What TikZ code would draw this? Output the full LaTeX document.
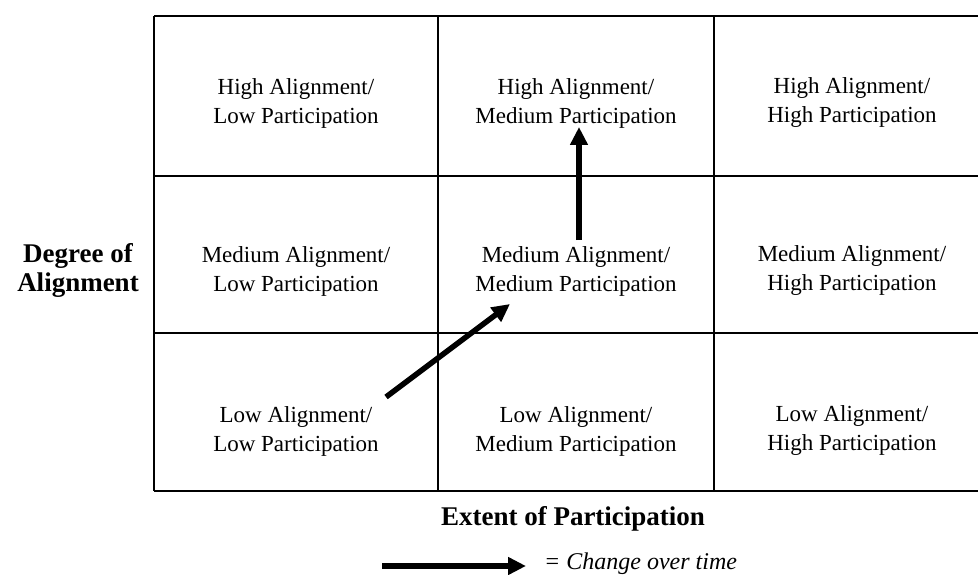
\documentclass[tikz,border=0pt]{standalone}
\usepackage{fontspec}
\setmainfont{Liberation Serif}
\usetikzlibrary{arrows.meta}

\begin{document}
\begin{tikzpicture}[x=1pt,y=-1pt,
	cell/.style={align=center,inner sep=0pt,font=\fontsize{23}{29}\selectfont},
	axislabel/.style={align=center,inner sep=0pt,font=\fontsize{27}{29}\selectfont\bfseries},
	gridline/.style={line width=1.3pt},
	change/.style={line width=5.5pt,-{Triangle[length=18pt,width=17pt]}}]
	\useasboundingbox (0,0) rectangle (978,575);
	% grid
	\draw[gridline] (154,16) -- (978,16);
	\draw[gridline] (154,176) -- (978,176);
	\draw[gridline] (154,333) -- (978,333);
	\draw[gridline] (154,491) -- (978,491);
	\draw[gridline] (154,16) -- (154,491);
	\draw[gridline] (438,16) -- (438,491);
	\draw[gridline] (714,16) -- (714,491);
	% cells
	\node[cell] (hl) at (296,103) {High Alignment/\\Low Participation};
	\node[cell] (hm) at (576,103) {High Alignment/\\Medium Participation};
	\node[cell] (hh) at (852,103) {High Alignment/\\High Participation};
	\node[cell] (ml) at (296,271) {Medium Alignment/\\Low Participation};
	\node[cell] (mm) at (576,271) {Medium Alignment/\\Medium Participation};
	\node[cell] (mh) at (852,271) {Medium Alignment/\\High Participation};
	\node[cell] (ll) at (296,431) {Low Alignment/\\Low Participation};
	\node[cell] (lm) at (576,431) {Low Alignment/\\Medium Participation};
	\node[cell] (lh) at (852,431) {Low Alignment/\\High Participation};
	% axes
	\node[axislabel] (degree) at (78,270) {Degree of\\Alignment};
	\node[axislabel] (extent) at (573,519) {Extent of Participation};
	% change over time
	\coordinate (lowstart) at (386,397);
	\coordinate (midend) at (510,304);
	\coordinate (midstart) at (579,240);
	\coordinate (highend) at (579,127);
	\draw[change] (lowstart) -- (midend);
	\draw[change] (midstart) -- (highend);
	% legend
	\coordinate (keystart) at (382,566);
	\coordinate (keyend) at (526,566);
	\draw[change] (keystart) -- (keyend);
	\node[anchor=base west,inner sep=0pt,font=\fontsize{24}{24}\selectfont\itshape] (key) at (544,569) {= Change over time};
\end{tikzpicture}
\end{document}
